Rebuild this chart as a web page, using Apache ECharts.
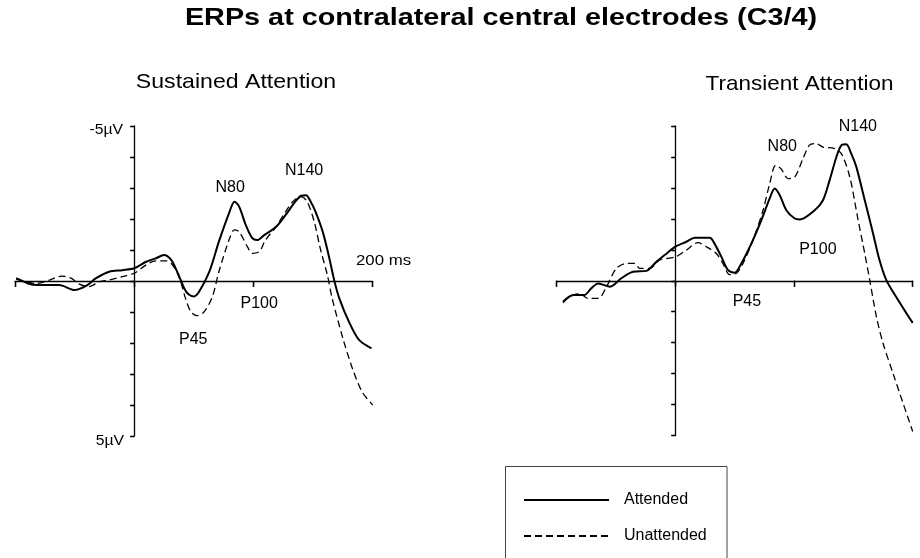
<!DOCTYPE html>
<html>
<head>
<meta charset="utf-8">
<script src="https://cdn.jsdelivr.net/npm/echarts@6/dist/echarts.min.js"></script>
<style>html,body{margin:0;padding:0;background:#fff}#c{width:920px;height:558px}</style>
</head>
<body>
<div id="c"></div>
<script>
// ---- data: [time in ms, amplitude in µV] ----
const xTickValues = [-100, 0, 100, 200];
const yTickLabels = ['-5µV', '5µV'];

const sustainedAttended = [[-99,-0.09],[-89,0.08],[-82,0.13],[-63,0.13],[-50,0.29],[-40,0.15],[-32,-0.09],[-21,-0.3],[-10,-0.35],[0,-0.41],[10,-0.62],[18,-0.73],[25,-0.84],[31,-0.68],[36,-0.3],[42,0.24],[45.5,0.43],[50,0.5],[54.5,0.34],[63,-0.3],[71,-1.27],[80,-2.24],[84,-2.56],[88,-2.4],[93.6,-1.8],[99,-1.38],[103,-1.32],[109,-1.48],[119,-1.75],[127,-2.13],[135,-2.56],[140,-2.75],[144,-2.77],[148,-2.56],[152,-2.24],[158,-1.6],[163,-0.84],[168,0.02],[172,0.56],[180,1.31],[188.5,1.9],[199,2.17]];

const sustainedUnattended = [[-99,-0.05],[-91,0.02],[-82,0.08],[-71,-0.03],[-61,-0.16],[-53,-0.09],[-46,0.1],[-38,0.18],[-29,0.02],[-21,-0.03],[-10,-0.14],[0,-0.25],[10,-0.52],[18,-0.65],[26.5,-0.65],[32,-0.52],[38,-0.09],[43,0.56],[47.5,0.99],[53,1.12],[58.7,0.99],[65.6,0.5],[71,-0.3],[80,-1.38],[84,-1.65],[88,-1.59],[95,-1.1],[99,-0.89],[105,-0.95],[110,-1.32],[119,-1.75],[127,-2.24],[134,-2.6],[140,-2.72],[145,-2.56],[151,-1.91],[156,-1.05],[162,-0.19],[166,0.56],[175,1.85],[183,2.82],[191,3.57],[200,4.0]];

const transientAttended = [[-94.7,0.68],[-86,0.46],[-76.7,0.46],[-71,0.25],[-65,0.09],[-55,0.19],[-45.5,-0.08],[-35.7,-0.29],[-24.4,-0.32],[-16,-0.61],[-9,-0.83],[0,-1.1],[9.3,-1.26],[16.3,-1.39],[29,-1.39],[33,-1.2],[38.8,-0.77],[44.4,-0.34],[50,-0.26],[55.6,-0.56],[64,-1.2],[72.5,-1.96],[79.5,-2.66],[83.7,-2.98],[88,-2.76],[93.5,-2.28],[100.6,-2.01],[104.8,-1.98],[117.4,-2.28],[124.4,-2.6],[130,-3.25],[135.7,-4.0],[140,-4.38],[144,-4.41],[148.3,-4.1],[152.5,-3.68],[159.6,-2.6],[166.6,-1.53],[172,-0.67],[177.8,-0.02],[186,0.52],[194.7,1.05],[200,1.36]];

const transientUnattended = [[-94.7,0.71],[-89,0.52],[-80.6,0.41],[-73.6,0.57],[-65,0.57],[-58,0.19],[-49.7,-0.4],[-41.3,-0.56],[-34.3,-0.56],[-30,-0.4],[-21.6,-0.4],[-13.2,-0.67],[0,-0.77],[9.3,-0.99],[19,-1.23],[26,-1.1],[34.5,-0.88],[40,-0.56],[45.8,-0.2],[51.4,-0.24],[57,-0.56],[65.4,-1.31],[73.9,-2.28],[79.5,-3.14],[84.5,-3.73],[89,-3.62],[95,-3.3],[100.6,-3.35],[107.6,-3.95],[113,-4.38],[118.8,-4.43],[124.4,-4.32],[134.3,-4.27],[140,-4.1],[147,-3.35],[154,-1.96],[159.6,-0.88],[163.8,-0.02],[169.4,1.16],[175,2.02],[183.4,2.99],[191.9,3.96],[200,4.87]];

// component labels: [ms, µV, text]
const sustainedPeaks = [[80.5,-3.0,'N80'],[142.5,-3.55,'N140'],[104.8,0.73,'P100'],[49.5,1.9,'P45']];
const transientPeaks = [[90.1,-4.32,'N80'],[153.8,-4.98,'N140'],[120.1,-1.02,'P100'],[60.3,0.68,'P45']];

const seriesNames = ['Attended', 'Unattended'];
const panelTitles = ['Sustained Attention', 'Transient Attention'];
const mainTitle = 'ERPs at contralateral central electrodes (C3/4)';

// ---- chart ----
const FONT = '"Liberation Sans", Arial, Helvetica, sans-serif';
const INK = '#000';
const chart = echarts.init(document.getElementById('c'), null, {renderer: 'canvas'});

function xAxes(gi, yIdx) {
  const base = {
    gridIndex: gi, type: 'value', min: -100, max: 200, interval: 100,
    axisLabel: {show: false}, splitLine: {show: false}
  };
  return [
    Object.assign({}, base, {
      axisLine: {show: true, onZero: true, onZeroAxisIndex: yIdx, lineStyle: {color: INK, width: 1.3}},
      axisTick: {show: true, inside: false, length: 6, lineStyle: {color: INK, width: 1.3}}
    }),
    Object.assign({}, base, {
      axisLine: {show: false, onZero: true, onZeroAxisIndex: yIdx},
      axisTick: {show: true, inside: true, length: 6, lineStyle: {color: INK, width: 1.3}}
    })
  ];
}
function yAxes(gi, xIdx) {
  const base = {
    gridIndex: gi, type: 'value', min: -5, max: 5, interval: 1, inverse: true,
    splitLine: {show: false}, axisLabel: {show: false}
  };
  return [
    Object.assign({}, base, {
      axisLine: {show: true, onZero: true, onZeroAxisIndex: xIdx, lineStyle: {color: INK, width: 1.3}},
      axisTick: {show: true, inside: false, length: 4, lineStyle: {color: INK, width: 1.3}}
    }),
    Object.assign({}, base, {
      axisLine: {show: false, onZero: true, onZeroAxisIndex: xIdx},
      axisTick: {show: true, inside: true, length: 4, lineStyle: {color: INK, width: 1.3}}
    })
  ];
}

function lineSeries(name, data, xi, yi, dashed) {
  return {
    name: name, type: 'line', xAxisIndex: xi, yAxisIndex: yi,
    data: data, symbol: 'none', smooth: 0.3, animation: false,
    lineStyle: dashed ? {color: INK, width: 1.3, type: [7, 4]} : {color: INK, width: 2},
    itemStyle: {color: INK}
  };
}
function peakSeries(data, xi, yi) {
  return {
    type: 'scatter', xAxisIndex: xi, yAxisIndex: yi, symbolSize: 0, clip: false,
    silent: true, animation: false,
    itemStyle: {opacity: 1, color: INK},
    data: data.map(d => ({name: d[2], value: [d[0], d[1]]})),
    label: {show: true, position: 'inside', formatter: '{b}', color: INK, fontFamily: FONT, fontSize: 16}
  };
}

function gtext(text, x, y, size, weight, sx, align) {
  return {
    type: 'text', x: x, y: y, scaleX: sx, silent: true,
    style: {text: text, fill: INK, font: weight + ' ' + size + 'px ' + FONT, textAlign: align || 'center', textVerticalAlign: 'middle'}
  };
}

chart.setOption({
  backgroundColor: '#fff',
  animation: false,
  grid: [
    {left: 15, top: 126, width: 357.7, height: 310, containLabel: false, outerBoundsMode: 'none'},
    {left: 556.7, top: 126, width: 356, height: 309.5, containLabel: false, outerBoundsMode: 'none'}
  ],
  xAxis: [].concat(xAxes(0, 0), xAxes(1, 2)),
  yAxis: [].concat(yAxes(0, 0), yAxes(1, 2)),
  legend: {
    data: seriesNames, orient: 'vertical', left: 523, top: 492,
    itemWidth: 85, itemHeight: 14, itemGap: 20,
    padding: 0,
    selectedMode: false,
    itemStyle: {opacity: 0},
    textStyle: {color: INK, fontFamily: FONT, fontSize: 16, padding: [0, 0, 0, 10]}
  },
  graphic: [
    gtext(mainTitle, 501, 18.7, 24, 'bold', 1.2),
    gtext(panelTitles[0], 236, 82.5, 21, 'normal', 1.1),
    gtext(panelTitles[1], 799.5, 83.8, 21, 'normal', 1.07),
    gtext('200 ms', 383.5, 260.7, 15, 'normal', 1.12),
    gtext(yTickLabels[0], 123, 130, 15, 'normal', 1.05, 'right'),
    gtext(yTickLabels[1], 124, 440.5, 15, 'normal', 1.05, 'right'),
    {type: 'rect', silent: true, shape: {x: 505.5, y: 466.5, width: 221.5, height: 130},
     style: {fill: 'none', stroke: '#444', lineWidth: 1}}
  ],
  series: [
    lineSeries(seriesNames[0], sustainedAttended, 0, 0, false),
    lineSeries(seriesNames[1], sustainedUnattended, 0, 0, true),
    lineSeries(seriesNames[0], transientAttended, 2, 2, false),
    lineSeries(seriesNames[1], transientUnattended, 2, 2, true),
    peakSeries(sustainedPeaks, 0, 0),
    peakSeries(transientPeaks, 2, 2)
  ]
});
</script>
</body>
</html>
